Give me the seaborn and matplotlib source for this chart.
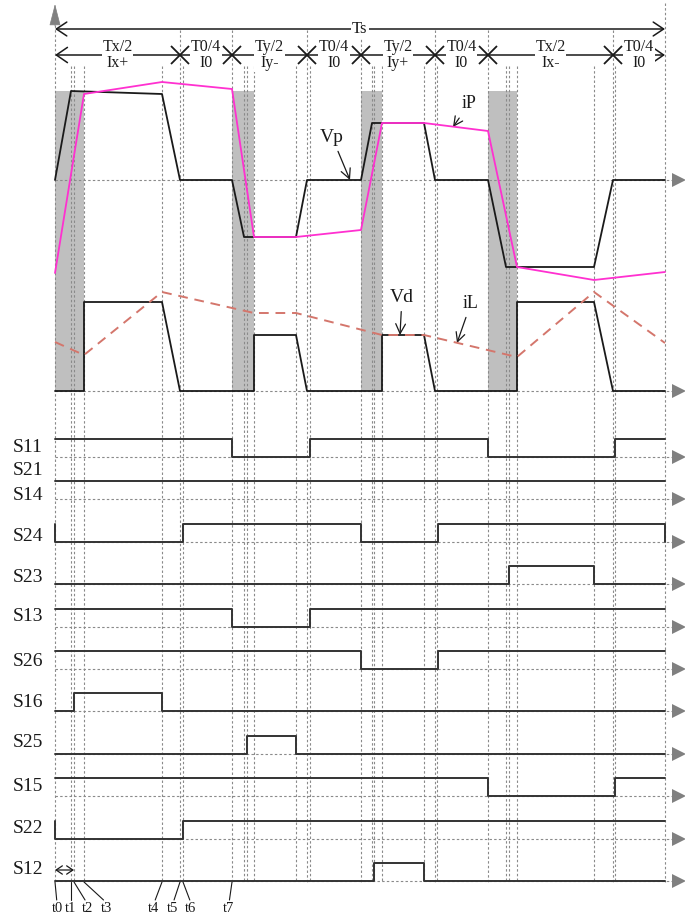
import numpy as np
import matplotlib
matplotlib.use("Agg")
import matplotlib.pyplot as plt
import seaborn as sns

# ---------------------------------------------------------------
# One switching period Ts, time in drawing units (Ts = 610)
# ---------------------------------------------------------------
Ts = 610
event_times = [0, 16, 19, 29, 107, 125, 128, 177, 189, 192, 199, 241, 252, 255,
               306, 317, 319, 327, 369, 380, 382, 433, 451, 454, 462, 539, 558,
               560, 610]
interval_bounds = [0, 125, 177, 252, 306, 380, 433, 558, 610]
interval_top = ["Tx/2", "T0/4", "Ty/2", "T0/4", "Ty/2", "T0/4", "Tx/2", "T0/4"]
interval_bottom = ["Ix+", "I0", "Iy-", "I0", "Iy+", "I0", "Ix-", "I0"]

# primary voltage Vp and primary current iP
vp_t = [0, 16, 107, 125, 177, 189, 241, 252, 306, 317, 369, 380, 433, 451, 539, 558, 610]
vp_v = [0, 89, 86, 0, 0, -57, -57, 0, 0, 57, 57, 0, 0, -87, -87, 0, 0]
ip_t = [0, 29, 107, 177, 199, 241, 306, 327, 369, 433, 462, 539, 610]
ip_v = [-93, 86, 98, 91, -57, -57, -50, 57, 57, 49, -87, -100, -92]

# rectified voltage Vd and inductor current iL
vd_t = [0, 29, 29, 107, 125, 199, 199, 241, 252, 327, 327, 369, 380, 462, 462, 539, 558, 610]
vd_v = [0, 0, 89, 89, 0, 0, 56, 56, 0, 0, 56, 56, 0, 0, 89, 89, 0, 0]
il_t = [0, 29, 107, 199, 241, 327, 369, 462, 539, 610]
il_v = [49, 36, 99, 78, 78, 56, 56, 34, 99, 48]

# commutation intervals (grey bands)
dead_bands = [(0, 29), (177, 199), (306, 327), (433, 462)]

# gate signals: initial level and toggle instants
switch_names = ["S11", "S21\nS14", "S24", "S23", "S13", "S26", "S16", "S25", "S15", "S22", "S12"]
switch_init = [1, 1, 1, 0, 1, 1, 0, 0, 1, 1, 0]
switch_edges = [
    [177, 255, 433, 560],
    [],
    [0, 128, 306, 383, 610],
    [454, 539],
    [177, 255],
    [306, 383],
    [19, 107],
    [192, 241],
    [433, 560],
    [0, 128],
    [319, 369],
]

# instants marked under the diagram
t_names = ["t0", "t1", "t2", "t3", "t4", "t5", "t6", "t7"]
t_values = [0, 16, 19, 29, 107, 125, 128, 177]

# ---------------------------------------------------------------
sns.set_style("white")
plt.rcParams["font.family"] = ["Liberation Serif", "DejaVu Serif"]

fig = plt.figure(figsize=(6.85, 9.18), dpi=100)
ax = fig.add_axes([0, 0, 1, 1])
X0 = 55
ax.set_xlim(-X0, 685 - X0)
ax.set_ylim(918, 0)
ax.axis("off")

INK = "#1a1a1a"
GRID = "#8a8a8a"
GRID_LS = (0, (2.2, 2.0))
ARROW_GREY = "#808080"

VP_BASE = 180
VD_BASE = 391
BAND_TOP = 91
SW_LOW = np.linspace(457, 881, len(switch_names))
SW_AMP = 18
GRID_BOTTOM = 882
T_ARROW_END = 624

# grey commutation bands
for a, b in dead_bands:
    ax.fill_between([a, b], BAND_TOP, VD_BASE, color="#bfbfbf", lw=0, zorder=0)

# vertical time markers
for t in event_times:
    if t == Ts:
        top = 3
    elif t == 0:
        top = 25
    elif t in interval_bounds:
        top = 30
    else:
        top = 66
    ax.plot([t, t], [top, GRID_BOTTOM], color=GRID, lw=0.8, ls=GRID_LS, zorder=1)

# horizontal reference levels with arrow heads
baselines = [VP_BASE, VD_BASE] + list(SW_LOW)
for y in baselines:
    ax.plot([0, T_ARROW_END - 6], [y, y], color=GRID, lw=0.8, ls=GRID_LS, zorder=1)
ax.plot([T_ARROW_END] * len(baselines), baselines, ls="none", marker=">",
        ms=10, color=ARROW_GREY, mew=0, zorder=3)

# vertical axis arrow
ax.annotate("", xy=(0, 4), xytext=(0, 26),
            arrowprops=dict(arrowstyle="-|>,head_length=1.4,head_width=0.36",
                            color=ARROW_GREY, lw=0.5, shrinkA=0, shrinkB=0))

# waveforms
sns.lineplot(x=vp_t, y=VP_BASE - np.array(vp_v), color=INK, lw=1.3,
             estimator=None, sort=False, ax=ax, zorder=4)
sns.lineplot(x=ip_t, y=VP_BASE - np.array(ip_v), color="#ff30d0", lw=1.3,
             estimator=None, sort=False, ax=ax, zorder=5)
sns.lineplot(x=vd_t, y=VD_BASE - np.array(vd_v), color=INK, lw=1.3,
             estimator=None, sort=False, ax=ax, zorder=4)
il_line = sns.lineplot(x=il_t, y=VD_BASE - np.array(il_v), color="#d4766c", lw=1.4,
                       estimator=None, sort=False, ax=ax, zorder=5).lines[-1]
il_line.set_linestyle((0, (5, 3.5)))

# gate signals
for name, init, edges, low in zip(switch_names, switch_init, switch_edges, SW_LOW):
    ts, lv = [0], [init]
    cur = init
    for e in edges:
        ts.append(e); lv.append(cur)
        cur = 1 - cur
        ts.append(e); lv.append(cur)
    ts.append(Ts); lv.append(cur)
    sns.lineplot(x=ts, y=low - SW_AMP * np.array(lv), color="#333333", lw=1.4,
                 estimator=None, sort=False, ax=ax, zorder=4)

label_dy = [-10, 0, -5, -7, -10, -7, -9, -11, -10, -10, -12]
for name, low, dy in zip(switch_names, SW_LOW, label_dy):
    if "\n" in name:
        upper, lower = name.split("\n")
        ax.text(-12, low - 29, upper, ha="right", va="center", fontsize=14, color=INK)
        ax.text(-12, low - 4, lower, ha="right", va="center", fontsize=14, color=INK)
    else:
        ax.text(-12, low + dy, name, ha="right", va="center", fontsize=14, color=INK)

# period arrow Ts
TS_Y = 29
ax.annotate("", xy=(Ts, TS_Y), xytext=(0, TS_Y),
            arrowprops=dict(arrowstyle="<->,head_length=0.75,head_width=0.5",
                            lw=1.1, color=INK, shrinkA=0, shrinkB=0))
ax.text(305, TS_Y, "Ts", ha="center", va="center", fontsize=12, color=INK,
        bbox=dict(facecolor="white", edgecolor="none", pad=0.8))

# interval arrows
SEG_Y = 55
ax.annotate("", xy=(Ts, SEG_Y), xytext=(0, SEG_Y),
            arrowprops=dict(arrowstyle="<->,head_length=0.8,head_width=0.55",
                            lw=1.1, color=INK, shrinkA=0, shrinkB=0))
ax.plot(interval_bounds[1:-1], [SEG_Y] * (len(interval_bounds) - 2), ls="none",
        marker="x", ms=12.5, mew=1.3, color=INK, zorder=6)
for i, (top, bot) in enumerate(zip(interval_top, interval_bottom)):
    mid = 0.5 * (interval_bounds[i] + interval_bounds[i + 1])
    ax.text(mid, SEG_Y, f"{top}\n{bot}", ha="center", va="center", fontsize=11.5,
            linespacing=0.98, color=INK, zorder=7,
            bbox=dict(facecolor="white", edgecolor="none", pad=0.6))

# trace labels
arrow_kw = dict(arrowstyle="->,head_length=0.5,head_width=0.25", lw=0.9, color=INK,
                shrinkA=2, shrinkB=0)
ax.annotate("Vp", xy=(295, 180), xytext=(277, 137), ha="center", va="center",
            fontsize=14, color=INK, arrowprops=arrow_kw)
ax.annotate("iP", xy=(398, 127), xytext=(414, 104), ha="center", va="center",
            fontsize=13, color=INK, arrowprops=arrow_kw)
ax.annotate("Vd", xy=(345, 335), xytext=(347, 297), ha="center", va="center",
            fontsize=14, color=INK, arrowprops=arrow_kw)
ax.annotate("iL", xy=(402, 343), xytext=(416, 303), ha="center", va="center",
            fontsize=13, color=INK, arrowprops=arrow_kw)

# t0 -> t1 span marker
ax.annotate("", xy=(19, 870), xytext=(0, 870),
            arrowprops=dict(arrowstyle="<->,head_length=0.45,head_width=0.3",
                            lw=0.9, color=INK, shrinkA=0, shrinkB=0))

# instant labels with leader lines
t_label_x = [2, 16, 32, 52, 99, 118, 136, 174]
for name, tv, tx in zip(t_names, t_values, t_label_x):
    ax.plot([tv, tx + (tv - tx) * 0.15], [GRID_BOTTOM, 900], color=INK, lw=0.8)
    ax.text(tx, 908, name, ha="center", va="center", fontsize=10.5, color=INK)

fig.savefig("out.png", dpi=100)
